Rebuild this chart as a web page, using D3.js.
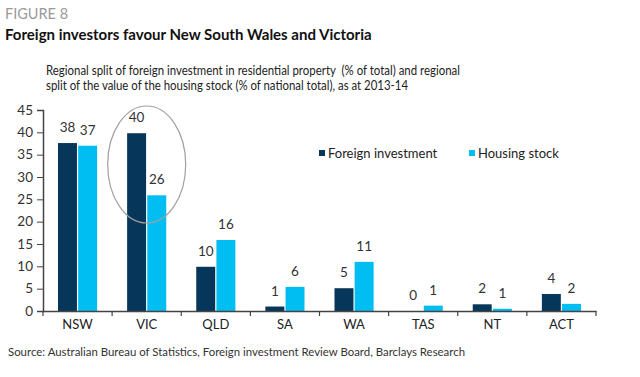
<!DOCTYPE html>
<html>
<head>
<meta charset="utf-8">
<script src="https://cdn.jsdelivr.net/npm/d3@7"></script>
<style>
  body { margin: 0; background: #fff; }
  svg { font-family: Lato, "Open Sans", sans-serif; }
</style>
</head>
<body>
<div id="chart"></div>
<script>
// Data
const categories = ["NSW", "VIC", "QLD", "SA", "WA", "TAS", "NT", "ACT"];
const series = ["Foreign investment", "Housing stock"];
const foreignInvestment = [37.6, 39.8, 9.9, 1.0, 5.1, 0, 1.5, 3.8];
const housingStock = [37.0, 25.9, 15.9, 5.4, 11.0, 1.2, 0.5, 1.6];
const foreignLabels = ["38", "40", "10", "1", "5", "0", "2", "4"];
const housingLabels = ["37", "26", "16", "6", "11", "1", "1", "2"];
const yTicks = [0, 5, 10, 15, 20, 25, 30, 35, 40, 45];

const colors = ["#06365a", "#00bdf2"];
const width = 640, height = 377;

const svg = d3.select("#chart")
    .append("svg")
    .attr("width", width)
    .attr("height", height);

// header texts
svg.append("text")
    .attr("x", 5).attr("y", 19)
    .style("font-size", "14.5px")
    .style("fill", "#9a9a9a")
    .text("FIGURE 8");

svg.append("text")
    .attr("x", 5).attr("y", 40)
    .style("font-size", "15px")
    .style("font-weight", "700")
    .style("fill", "#111")
    .text("Foreign investors favour New South Wales and Victoria");

// subtitle in the narrow face of the original, squeezed to its width
const subtitle = [
    "Regional split of foreign investment in residential property\u00a0 (% of total) and regional",
    "split of the value of the housing stock (% of national total), as at 2013-14"
];
const subtitleWidths = [414, 362];
svg.selectAll("text.subtitle")
    .data(subtitle)
    .enter()
    .append("text")
    .attr("class", "subtitle")
    .attr("x", 46)
    .attr("y", (d, i) => 75 + i * 15)
    .attr("textLength", (d, i) => subtitleWidths[i])
    .attr("lengthAdjust", "spacingAndGlyphs")
    .style("font-size", "13px")
    .style("fill", "#222")
    .text(d => d);

// scales
const x = d3.scaleBand()
    .domain(categories)
    .range([43, 596])
    .paddingInner(0)
    .paddingOuter(0);

const xSub = d3.scaleBand()
    .domain(series)
    .range([15, x.bandwidth() - 15])
    .paddingInner(0.06);

const y = d3.scaleLinear()
    .domain([0, 45])
    .range([311, 110]);

// bars
const rows = categories.map((c, i) => ({
    cat: c,
    vals: [
        { s: series[0], v: foreignInvestment[i], label: foreignLabels[i] },
        { s: series[1], v: housingStock[i], label: housingLabels[i] }
    ]
}));

const groups = svg.selectAll("g.cat")
    .data(rows)
    .enter()
    .append("g")
    .attr("class", "cat")
    .attr("transform", d => `translate(${x(d.cat)},0)`);

groups.selectAll("rect")
    .data(d => d.vals)
    .enter()
    .append("rect")
    .attr("x", d => xSub(d.s))
    .attr("y", d => y(d.v))
    .attr("width", xSub.bandwidth())
    .attr("height", d => y(0) - y(d.v))
    .style("fill", (d, i) => colors[i]);

groups.selectAll("text")
    .data(d => d.vals)
    .enter()
    .append("text")
    .attr("x", d => xSub(d.s) + xSub.bandwidth() / 2)
    .attr("y", d => y(d.v) - 11)
    .style("text-anchor", "middle")
    .style("font-size", "13.5px")
    .style("fill", "#333")
    .text(d => d.label);

// y axis
const yAxis = svg.append("g")
    .attr("transform", "translate(43,0)")
    .call(d3.axisLeft(y).tickValues(yTicks).tickSize(6).tickPadding(4));
yAxis.selectAll("text").style("font-size", "13.5px").style("fill", "#333")
    .style("font-family", "Lato, sans-serif");
yAxis.selectAll("line").style("stroke", "#444");
yAxis.select(".domain").style("stroke", "#444").style("stroke-width", 1.5);

// x axis with ticks on category boundaries
const xAxis = svg.append("g")
    .attr("transform", `translate(0,${y(0)})`)
    .call(d3.axisBottom(x).tickSize(0).tickPadding(9));
xAxis.selectAll("text").style("font-size", "13px").style("fill", "#222")
    .style("font-family", "Lato, sans-serif");
xAxis.select(".domain").style("stroke", "#444").style("stroke-width", 1.5);

xAxis.selectAll("line.boundary")
    .data(categories.map(c => x(c)).concat([x.range()[1]]))
    .enter()
    .append("line")
    .attr("class", "boundary")
    .attr("x1", d => d).attr("x2", d => d)
    .attr("y1", 0).attr("y2", 5)
    .style("stroke", "#444")
    .style("stroke-width", 1.2);

// ellipse highlighting VIC
svg.append("ellipse")
    .attr("cx", x("VIC") + x.bandwidth() / 2)
    .attr("cy", 164.5)
    .attr("rx", 39)
    .attr("ry", 58.5)
    .style("fill", "none")
    .style("stroke", "#a0a0a0")
    .style("stroke-width", 1.2);

// legend
const legend = svg.append("g")
    .attr("transform", "translate(319,153)");

const legendItems = legend.selectAll("g")
    .data(series)
    .enter()
    .append("g")
    .attr("transform", (d, i) => `translate(${i * 150},0)`);

legendItems.append("rect")
    .attr("x", 0).attr("y", -3)
    .attr("width", 6).attr("height", 6)
    .style("fill", (d, i) => colors[i]);

legendItems.append("text")
    .attr("x", 9).attr("y", 5)
    .style("font-size", "13px")
    .style("fill", "#222")
    .text(d => d);

// source
svg.append("text")
    .attr("x", 8).attr("y", 356)
    .attr("textLength", 457)
    .attr("lengthAdjust", "spacingAndGlyphs")
    .style("font-size", "12px")
    .style("fill", "#333")
    .text("Source: Australian Bureau of Statistics, Foreign investment Review Board, Barclays Research");
</script>
</body>
</html>
